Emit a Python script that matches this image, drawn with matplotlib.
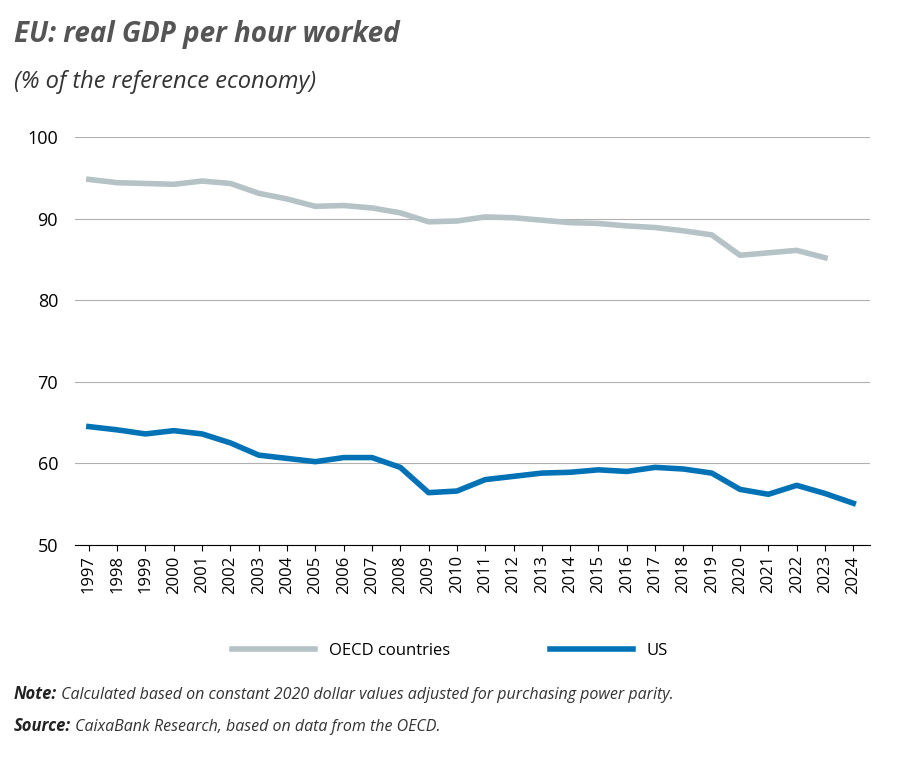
import matplotlib.pyplot as plt

years = list(range(1997, 2025))
oecd = [94.8, 94.4, 94.3, 94.2, 94.6, 94.3, 93.1, 92.4, 91.5, 91.6, 91.3, 90.7,
        89.6, 89.7, 90.2, 90.1, 89.8, 89.5, 89.4, 89.1, 88.9, 88.5, 88.0,
        85.5, 85.8, 86.1, 85.2]
us = [64.5, 64.1, 63.6, 64.0, 63.6, 62.5, 61.0, 60.6, 60.2, 60.7, 60.7, 59.5,
      56.4, 56.6, 58.0, 58.4, 58.8, 58.9, 59.2, 59.0, 59.5, 59.3, 58.8,
      56.8, 56.2, 57.3, 56.3, 55.1]

plt.rcParams['font.family'] = ['Open Sans', 'DejaVu Sans']
fig = plt.figure(figsize=(9, 7.61), dpi=100)
ax = fig.add_axes([0.083, 0.284, 0.884, 0.536])

ax.plot(years[:len(oecd)], oecd, color='#b5c2c6', lw=4, label='OECD countries')
ax.plot(years, us, color='#0072b5', lw=4, label='US')

ax.set_ylim(50, 100)
ax.set_yticks([50, 60, 70, 80, 90, 100])
ax.set_xlim(1996.5, 2024.6)
ax.set_xticks(years)
ax.set_xticklabels([str(y) for y in years], rotation=90, fontsize=12)
ax.tick_params(axis='y', length=0, labelsize=13, pad=12)
ax.tick_params(axis='x', length=4, direction='out')
ax.grid(axis='y', color='#b0b0b0', lw=0.8)
ax.set_axisbelow(True)
for s in ['left', 'right', 'top']:
    ax.spines[s].set_visible(False)
ax.spines['bottom'].set_color('black')

fig.legend(loc='center', bbox_to_anchor=(0.5, 0.145), ncol=2, frameon=False,
           fontsize=12, handlelength=5, columnspacing=6)

fig.text(0.015, 0.945, 'EU: real GDP per hour worked', fontsize=20,
         fontweight='bold', style='italic', color='#555555')
fig.text(0.015, 0.885, '(% of the reference economy)', fontsize=17,
         style='italic', color='#333333')

for y, head, body in [(0.082, 'Note:', ' Calculated based on constant 2020 dollar values adjusted for purchasing power parity.'),
                      (0.04, 'Source:', ' CaixaBank Research, based on data from the OECD.')]:
    t = fig.text(0.015, y, head, fontsize=12, style='italic', fontweight='bold', color='#222222')
    fig.text(0, 0, body, fontsize=11.5, style='italic', color='#333333',
             transform=t.get_transform(), ha='left')
    fig.canvas.draw()
    bb = t.get_window_extent().transformed(fig.transFigure.inverted())
    fig.texts[-1].set_position((bb.x1, y))
    fig.texts[-1].set_transform(fig.transFigure)

fig.savefig('out.png', dpi=100)
